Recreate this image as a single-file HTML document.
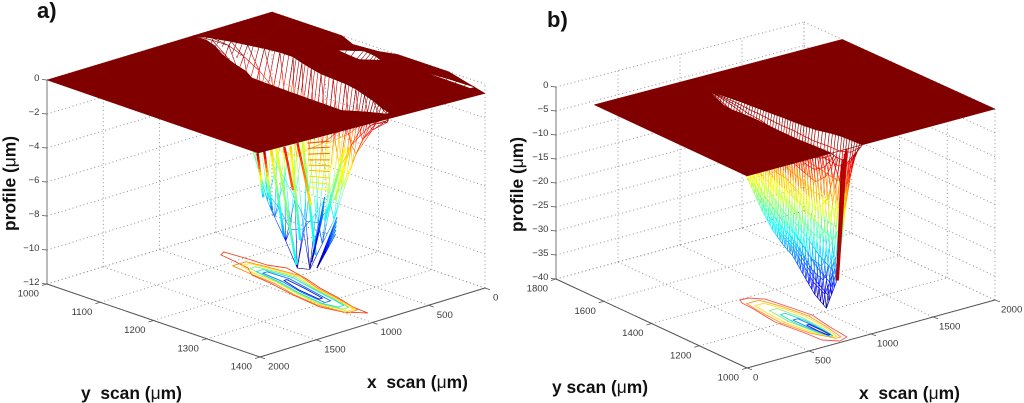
<!DOCTYPE html>
<html lang="en">
<head>
<meta charset="utf-8">
<title>Surface profile scans</title>
<style>
html,body{margin:0;padding:0;background:#fff;}
svg{display:block;font-family:"Liberation Sans",sans-serif;filter:blur(0.3px);}
.tick{font-size:9.6px;fill:#3a3a3a;}
.title{font-size:17.4px;font-weight:bold;fill:#111;}
.panel{font-size:22px;font-weight:bold;fill:#111;}
.mu{font-weight:normal;}
</style>
</head>
<body>
<svg id="figure" xmlns="http://www.w3.org/2000/svg" width="1024" height="403" viewBox="0 0 1024 403">
  <g id="panel-a"></g>
  <g id="panel-b"></g>
  <text class="panel" x="37" y="18">a)</text>
  <text class="panel" x="547" y="27">b)</text>
  <text class="title" x="81" y="399" style="white-space:pre">y  scan (<tspan class="mu">μ</tspan>m)</text>
  <text class="title" x="367" y="388" style="white-space:pre">x  scan (<tspan class="mu">μ</tspan>m)</text>
  <text class="title" transform="translate(15.5,231) rotate(-90)">profile (<tspan class="mu">μ</tspan>m)</text>
  <text class="title" x="552" y="393">y scan (<tspan class="mu">μ</tspan>m)</text>
  <text class="title" x="859" y="399" style="white-space:pre">x  scan (<tspan class="mu">μ</tspan>m)</text>
  <text class="title" transform="translate(523,232) rotate(-90)">profile (<tspan class="mu">μ</tspan>m)</text>
</svg>
<script>
/* ---------- panel a data ---------- */
const xTicksA = [0, 500, 1000, 1500, 2000];
const yTicksA = [1000, 1100, 1200, 1300, 1400];
const zTicksA = [0, -2, -4, -6, -8, -10, -12];
const stationsA = [1000,1025,1050,1075,1100,1125,1150,1175,1200,1225,1250,1275,1300,1325,1350,1375,1400];
const rimFarA  = [690,640,600,570,540,520,520,560,595,625,635,645,670,710,750,800,842];
const rimNearA = [700,700,740,810,860,905,940,1005,1012,1016,1020,1023,1026,1028,1030,940,870];
const columnsA = [0,0.15,0.35,0.55,0.7,0.85,1];
const depthsA = [
 [0,0,0,0,0,0,0],
 [0,-0.1,-0.3,-0.5,-0.4,-0.2,0],
 [0,-0.2,-0.7,-1,-0.8,-0.3,0],
 [0,-0.6,-1.4,-2,-1.6,-0.7,0],
 [0,-1.2,-3,-4,-3.1,-1.4,0],
 [0,-2,-4.6,-6,-4.7,-2.2,0],
 [0,-2.9,-6.1,-8,-6.4,-3,0],
 [0,-3.1,-6.5,-8.6,-7,-3.4,0],
 [0,-3.5,-7.4,-9.7,-7.6,-3.6,0],
 [0,-3.8,-8.4,-11,-8.6,-4,0],
 [0,-3.7,-8.2,-10.8,-8.3,-3.9,0],
 [0,-3.1,-6.8,-9,-7.1,-3.2,0],
 [0,-2.5,-5.5,-7.3,-5.7,-2.6,0],
 [0,-1.7,-3.8,-5,-3.9,-1.8,0],
 [0,-1,-2.1,-2.8,-2.2,-1,0],
 [0,-0.4,-0.9,-1.2,-0.9,-0.4,0],
 [0,-0.2,-0.4,-0.5,-0.4,-0.2,0]
];
/* long triangulated strands hanging below the front edge */
const streakTopYA = [1251,1251,1254,1253,1257,1260,1257,1259,1314,1315];
const streakTopXA = [1312,1252,1204,1154,1102,1060,986,950,834,798];
const streakTopZA = [-3,-3,-3,-3,-3,-3,-3,-3,-3,-3];
const streakEndYA = [1088,1133,1222,1314,1094,1245,1153,1302,1209,1160];
const streakEndXA = [494,630,942,1266,258,908,378,1040,518,198];
const streakEndZA = [-9,-9,-9,-9,-9,-9,-9,-9,-9,-9];
const streakTopHeatA = [-0.3,-0.5,-3.5,-4,-1.5,-3.5,-1.5,-4.5,-4,-3.5];
const streakEndHeatA = [-7.5,-8.5,-8,-7,-2.5,-7,-4,-7.5,-7,-5];
const fanTopYA = [1211,1142];
const fanTopXA = [420,204];
const fanEndYA = [1341,1319];
const fanEndXA = [1212,1154];
const fanZA = -9;
const rungStopsA = [0,0.12,0.25,0.38,0.5,0.62,0.75,0.88,1];
const rungHeatTopA = -2;
const rungHeatEndA = -4.2;
const rungLeftA = [[940,1266,-3],[136,1100,-9]];
const rungRightA = [[810,1280,-3],[84,1127,-9]];
const pitTwoY = [1170,1195,1217,1236];
const pitTwoFar = [215,108,120,150];
const pitTwoNear = [222,240,250,170];
const pitThreeY = [1310,1350,1400];
const pitThreeFar = [118,100,90];
const pitThreeNear = [122,125,130];
const planeEdgeYA = [1400,1332,1236,1200,1152,1132,1000];
const planeEdgeZA = [-0.55,0,0,-0.2,-0.3,0,0];
const contourOuterYA = [1064,1106,1140,1166,1212,1254,1295,1338,1368,1344,1309,1250,1195,1156,1132,1090,1070];
const contourOuterXA = [732,714,708,656,708,774,818,880,892,994,1034,996,940,916,838,800,786];
const contourBandsA = [
 {color:'#ff8a10', y:[1112,1150,1200,1250,1300,1350], hi:[880,905,925,985,1020,985], lo:[760,730,700,785,835,895]},
 {color:'#ffe600', y:[1120,1150,1200,1250,1300,1345], hi:[840,880,900,960,1000,960], lo:[770,745,720,800,850,905]},
 {color:'#7fef7f', y:[1135,1170,1200,1250,1300,1335], hi:[835,870,890,950,985,955], lo:[785,755,740,810,860,905]},
 {color:'#20e0d8', y:[1150,1200,1250,1300,1325], hi:[850,880,940,975,950], lo:[790,760,820,870,900]},
 {color:'#0a7cf0', y:[1160,1200,1250,1300], hi:[840,860,920,950], lo:[800,790,845,900]},
 {color:'#0a10d0', y:[1200,1240,1285], hi:[840,900,930], lo:[815,850,900]}
];

/* ---------- panel b data ---------- */
const xTicksB = [0, 500, 1000, 1500, 2000];
const yTicksB = [1000, 1200, 1400, 1600, 1800];
const zTicksB = [0, -5, -10, -15, -20, -25, -30, -35, -40];
const stationsB = [1000,1040,1080,1120,1160,1200,1240,1280,1320,1360,1400,1440,1480,1520,1560];
const rimLowB  = [680,675,670,662,660,660,662,665,668,660,652,660,690,720,745];
const rimHighB = [930,925,918,895,860,845,835,828,815,805,795,785,770,755,748];
const columnsB = [0,0.15,0.35,0.5,0.65,0.85,1];
const depthsB = [
 [0,-1,-2,-3,-2,-1,0],
 [0,-6,-20,-28.5,-21,-7,0],
 [0,-8,-26,-35,-27,-9,0],
 [0,-7,-25,-33,-25,-8,0],
 [0,-6,-22,-29.5,-22,-7,0],
 [0,-5,-20,-26.5,-20,-6,0],
 [0,-5,-19,-25,-19,-5,0],
 [0,-4,-17,-23,-17,-5,0],
 [0,-3.5,-15,-20,-15,-4,0],
 [0,-3,-12,-16,-12,-3,0],
 [0,-2,-9,-12,-9,-2.5,0],
 [0,-1.5,-5.5,-7.5,-5.5,-1.5,0],
 [0,-0.8,-3,-4,-3,-0.8,0],
 [0,-0.3,-1,-1.4,-1,-0.3,0],
 [0,0,0,0,0,0,0]
];
const wallTopXB = [862,854,846,838,830,822];
const wallTopZB = [-1,-1.5,-2,-3,-3,-4];
const wallBottomXB = [792,790,788,786,784,782];
const wallBottomZB = [-28,-28,-28,-28,-28,-28];
const wallStationB = 1030;
const planeFarYB = 1640;
const contourOuterYB = [1396,1393,1362,1280,1199,1103,1020,1009,1042,1108,1217,1332,1375];
const contourOuterXB = [705,773,843,878,908,868,845,766,686,676,643,679,683];
const contourBandsB = [
 {color:'#ff9a20', y:[1365,1300,1200,1100,1030], hi:[800,845,880,850,815], lo:[700,680,665,700,775]},
 {color:'#ffe020', y:[1340,1280,1200,1100,1040], hi:[790,830,860,835,800], lo:[720,700,690,720,780]},
 {color:'#8fef6f', y:[1290,1200,1100,1050], hi:[800,830,815,790], lo:[740,720,740,770]},
 {color:'#20e0e0', y:[1250,1180,1090,1050], hi:[790,815,800,785], lo:[750,735,750,770]},
 {color:'#1080f0', y:[1200,1130,1060], hi:[795,800,790], lo:[755,755,770]},
 {color:'#1010d8', y:[1150,1100,1060], hi:[790,790,785], lo:[770,765,770]}
];

/* ---------- axes geometry ---------- */
const axA = {x0:2000,x1:0,y0:1000,y1:1400,zMin:-12,zMax:0,
  floor:[[47,284],[260,357],[485,288],[272,215]],
  top:[[47,80],[258,153],[485,84],[272,12]]};
const axB = {x0:0,x1:2000,y0:1800,y1:1000,zMin:-40,zMax:0,
  floor:[[556,279],[747,368],[995,300],[804,211]],
  top:[[556,87],[747,176],[995,109],[804,22]]};

const NS = 'http://www.w3.org/2000/svg';
function el(parent, tag, attrs){
  const e = document.createElementNS(NS, tag);
  for (const k in attrs) e.setAttribute(k, attrs[k]);
  parent.appendChild(e);
  return e;
}
function bil(c,u,v){
  return [0,1].map(i => c[0][i]*(1-u)*(1-v)+c[1][i]*u*(1-v)+c[2][i]*u*v+c[3][i]*(1-u)*v);
}
function proj(ax,x,y,z){
  const u=(y-ax.y0)/(ax.y1-ax.y0), v=(x-ax.x0)/(ax.x1-ax.x0), t=(z-ax.zMin)/(ax.zMax-ax.zMin);
  const f=bil(ax.floor,u,v), p=bil(ax.top,u,v);
  return [f[0]+(p[0]-f[0])*t, f[1]+(p[1]-f[1])*t];
}
function fmt(p){return p[0].toFixed(1)+' '+p[1].toFixed(1);}
function clamp(v){return Math.max(0,Math.min(1,v));}
function jet(t){
  const r=clamp(1.5-Math.abs(4*t-3)), g=clamp(1.5-Math.abs(4*t-2)), b=clamp(1.5-Math.abs(4*t-1));
  return 'rgb('+Math.round(r*255)+','+Math.round(g*255)+','+Math.round(b*255)+')';
}
function line(g,p,q,stroke,width,dash){
  const l = el(g,'line',{x1:p[0].toFixed(1),y1:p[1].toFixed(1),x2:q[0].toFixed(1),y2:q[1].toFixed(1),stroke:stroke,'stroke-width':width});
  if (dash) l.setAttribute('stroke-dasharray',dash);
  return l;
}
function label(g,x,y,text,anchor){
  const t = el(g,'text',{x:x.toFixed(1),y:y.toFixed(1),'text-anchor':anchor,class:'tick'});
  t.textContent = text;
  return t;
}
function minus(v){return String(v).replace('-','\u2212');}

function drawFrame(g, ax, xTicks, yTicks, zTicks, opt){
  const grid = el(g,'g',{});
  
  
  const gc='#9c9c9c', gw=1, gd='1.1 2.7';
  zTicks.forEach(z=>{
    line(grid,proj(ax,ax.x0,ax.y0,z),proj(ax,ax.x1,ax.y0,z),gc,gw,gd);
    line(grid,proj(ax,ax.x1,ax.y0,z),proj(ax,ax.x1,ax.y1,z),gc,gw,gd);
  });
  xTicks.forEach(x=>{
    line(grid,proj(ax,x,ax.y0,ax.zMin),proj(ax,x,ax.y1,ax.zMin),gc,gw,gd);
    line(grid,proj(ax,x,ax.y0,ax.zMin),proj(ax,x,ax.y0,ax.zMax),gc,gw,gd);
  });
  yTicks.forEach(y=>{
    line(grid,proj(ax,ax.x0,y,ax.zMin),proj(ax,ax.x1,y,ax.zMin),gc,gw,gd);
    line(grid,proj(ax,ax.x1,y,ax.zMin),proj(ax,ax.x1,y,ax.zMax),gc,gw,gd);
  });
  const axes = el(g,'g',{});
  
  
  const ac='#555', aw=1;
  line(axes,proj(ax,ax.x0,ax.y0,ax.zMin),proj(ax,ax.x0,ax.y0,ax.zMax),'#777',aw);
  line(axes,proj(ax,ax.x0,ax.y0,ax.zMin),proj(ax,ax.x0,ax.y1,ax.zMin),ac,aw);
  line(axes,proj(ax,ax.x0,ax.y1,ax.zMin),proj(ax,ax.x1,ax.y1,ax.zMin),ac,aw);
  const labels = el(g,'g',{});
  
  
  zTicks.forEach(z=>{
    const p=proj(ax,ax.x0,ax.y0,z);
    line(axes,p,[p[0]-5,p[1]-0.5],ac,0.8);
    label(labels,p[0]-7.5,p[1]+opt.zDy,minus(z),'end');
  });
  yTicks.forEach(y=>{
    const p=proj(ax,ax.x0,y,ax.zMin);
    line(axes,p,[p[0]-5,p[1]+1.5],ac,0.8);
    label(labels,p[0]-8,p[1]+12.5,String(y),'end');
  });
  xTicks.forEach(x=>{
    const p=proj(ax,x,ax.y1,ax.zMin);
    line(axes,p,[p[0]+5,p[1]+1.8],ac,0.8);
    label(labels,p[0]+opt.xDx,p[1]+12.5,String(x),'start');
  });
}

function drawRing(g,ax,points,color,name){
  const d = points.map((p,i)=>(i?'L':'M')+fmt(proj(ax,p[0],p[1],ax.zMin))).join('')+'Z';
  const path = el(g,'path',{d:d,fill:'none',stroke:color,'stroke-width':0.9,'stroke-linejoin':'round'});
  
  
}
function drawContours(g,ax,outerX,outerY,outerColor,bands){
  const group = el(g,'g',{});
  
  
  drawRing(group,ax,outerX.map((x,i)=>[x,outerY[i]]),outerColor,'contour-outer');
  bands.forEach(b=>{
    const pts=[];
    b.y.forEach((y,i)=>pts.push([b.hi[i],y]));
    for(let i=b.y.length-1;i>=0;i--) pts.push([b.lo[i],b.y[i]]);
    drawRing(group,ax,pts,b.color,'contour-level');
  });
}

/* mesh edges are binned by colour so the DOM stays small */
function Mesh(ax,zLow,width){
  this.ax=ax; this.zLow=zLow; this.width=width; this.bins={};
}
Mesh.prototype.edge=function(a,b,n,ha,hb){
  const heatA = ha===undefined ? a[2] : ha;
  const heatB = hb===undefined ? b[2] : hb;
  for(let i=0;i<n;i++){
    const s=i/n, e=(i+1)/n;
    const pa=[a[0]+(b[0]-a[0])*s,a[1]+(b[1]-a[1])*s,a[2]+(b[2]-a[2])*s];
    const pb=[a[0]+(b[0]-a[0])*e,a[1]+(b[1]-a[1])*e,a[2]+(b[2]-a[2])*e];
    const zm=heatA+(heatB-heatA)*(s+e)/2;
    const idx=Math.round(clamp(1-zm/this.zLow)*48);
    this.bins[idx]=(this.bins[idx]||'')+'M'+fmt(proj(this.ax,pa[0],pa[1],pa[2]))+'L'+fmt(proj(this.ax,pb[0],pb[1],pb[2]));
  }
};
Mesh.prototype.flush=function(g,name){
  const group=el(g,'g',{fill:'none','stroke-width':this.width});
  
  
  Object.keys(this.bins).forEach(k=>{
    const p=el(group,'path',{d:this.bins[k],stroke:jet(k/48)});
    
    
  });
};
function drawGrid(mesh,stations,far,near,cols,depths,subR,subC,diag,rimSub){
  const pt=(s,t)=>{
    const i=Math.min(Math.floor(s),stations.length-2), j=Math.min(Math.floor(t),cols.length-2);
    const fs=s-i, ft=t-j;
    const y=stations[i]+(stations[i+1]-stations[i])*fs;
    const lo=far[i]+(far[i+1]-far[i])*fs, hi=near[i]+(near[i+1]-near[i])*fs;
    const c=cols[j]+(cols[j+1]-cols[j])*ft;
    const z0=depths[i][j]+(depths[i][j+1]-depths[i][j])*ft;
    const z1=depths[i+1][j]+(depths[i+1][j+1]-depths[i+1][j])*ft;
    return [lo+(hi-lo)*c,y,z0+(z1-z0)*fs];
  };
  const R=stations.length-1, C=cols.length-1;
  for(let s=0;s<=R*subR;s++){
    for(let t=0;t<C;t++) mesh.edge(pt(s/subR,t),pt(s/subR,t+1),4);
  }
  for(let t=0;t<=C*subC;t++){
    for(let s=0;s<R;s++) mesh.edge(pt(s,t/subC),pt(s+1,t/subC),4);
  }
  if(diag){
    for(let s=0;s<R;s++){
      for(let t=0;t<C;t++){
        mesh.edge(pt(s,t),pt(s+1,t+1),4);
      }
    }
  }
  if(rimSub){
    for(let s=0;s<=R*rimSub;s++){
      mesh.edge(pt(s/rimSub,0),pt(s/rimSub,1.4),3);
    }
  }
}
function polyPath(ax,pts){
  return pts.map((p,i)=>(i?'L':'M')+fmt(proj(ax,p[0],p[1],p[2]))).join('')+'Z';
}
function pitRing(stations,far,near){
  const pts=[];
  stations.forEach((y,i)=>pts.push([far[i],y,0]));
  for(let i=stations.length-1;i>=0;i--) pts.push([near[i],stations[i],0]);
  return pts;
}
function mix(a,b,s){return [a[0]+(b[0]-a[0])*s,a[1]+(b[1]-a[1])*s,a[2]+(b[2]-a[2])*s];}

/* ---------- panel a ---------- */
(function(){
  const g=document.getElementById('panel-a');
  drawFrame(g,axA,xTicksA,yTicksA,zTicksA,{zDy:1,xDx:8});
  drawContours(g,axA,contourOuterXA,contourOuterYA,'#f2431c',contourBandsA);
  const mesh=new Mesh(axA,-11,0.6);
  drawGrid(mesh,stationsA,rimFarA,rimNearA,columnsA,depthsA,1,1,true,3);
  drawGrid(mesh,pitTwoY,pitTwoFar,pitTwoNear,[0,0.5,1],[[0,-0.2,0],[0,-0.4,0],[0,-0.4,0],[0,-0.2,0]],3,1,false,0);
  drawGrid(mesh,pitThreeY,pitThreeFar,pitThreeNear,[0,0.5,1],[[0,-0.1,0],[0,-0.2,0],[0,-0.2,0]],3,1,false,0);
  mesh.flush(g,'trench-mesh');
  const streaks=new Mesh(axA,-11,2.4);
  streakTopXA.forEach((x,i)=>{
    streaks.edge([x,streakTopYA[i],streakTopZA[i]],[streakEndXA[i],streakEndYA[i],streakEndZA[i]],14,streakTopHeatA[i],streakEndHeatA[i]);
  });
  streaks.flush(g,'trench-streaks');
  const fine=new Mesh(axA,-11,1);
  fanTopXA.forEach((x,i)=>{
    for(let k=0;k<5;k++){
      const top=[x+k*60,fanTopYA[i]+k*12,fanZA];
      const end=[fanEndXA[i],fanEndYA[i],fanZA];
      fine.edge(top,end,6,-8,-11);
    }
  });
  rungStopsA.forEach(s=>{
    fine.edge(mix(rungLeftA[0],rungLeftA[1],s),mix(rungRightA[0],rungRightA[1],s),2,
      rungHeatTopA+(rungHeatEndA-rungHeatTopA)*s,rungHeatTopA+(rungHeatEndA-rungHeatTopA)*s);
  });
  fine.flush(g,'trench-rungs-and-fan');
  const outline=[[2000,1000,0],[2000,1400,0]];
  outline.push([0,1400,planeEdgeZA[0]]);
  planeEdgeYA.forEach((y,i)=>{ if(i>0) outline.push([0,y,planeEdgeZA[i]]); });
  const d=polyPath(axA,outline)+polyPath(axA,pitRing(stationsA,rimFarA,rimNearA))+
          polyPath(axA,pitRing(pitTwoY,pitTwoFar,pitTwoNear))+polyPath(axA,pitRing(pitThreeY,pitThreeFar,pitThreeNear));
  const plane=el(g,'path',{d:d,fill:'#800000','fill-rule':'evenodd',stroke:'#800000','stroke-width':0.5});
  
  
})();

/* ---------- panel b ---------- */
(function(){
  const g=document.getElementById('panel-b');
  drawFrame(g,axB,xTicksB,yTicksB,zTicksB,{zDy:1,xDx:6});
  drawContours(g,axB,contourOuterXB,contourOuterYB,'#f8504a',contourBandsB);
  const mesh=new Mesh(axB,-35,0.7);
  drawGrid(mesh,stationsB,rimLowB,rimHighB,columnsB,depthsB,4,3,false,0);
  mesh.flush(g,'trench-mesh');
  const wall=el(g,'g',{});
  
  
  wallTopXB.forEach((xt,i)=>{
    const a=proj(axB,xt,wallStationB,wallTopZB[i]);
    const b=proj(axB,wallBottomXB[i],wallStationB,wallBottomZB[i]);
    line(wall,a,b,i%2?'#a80000':'#c80808',1.8);
  });
  const outline=[[0,1000,0],[2000,1000,0],[2000,planeFarYB,0],[0,planeFarYB,0]];
  const d=polyPath(axB,outline)+polyPath(axB,pitRing(stationsB,rimLowB,rimHighB));
  const plane=el(g,'path',{d:d,fill:'#800000','fill-rule':'evenodd',stroke:'#800000','stroke-width':0.5});
  
  
})();
</script>
</body>
</html>
